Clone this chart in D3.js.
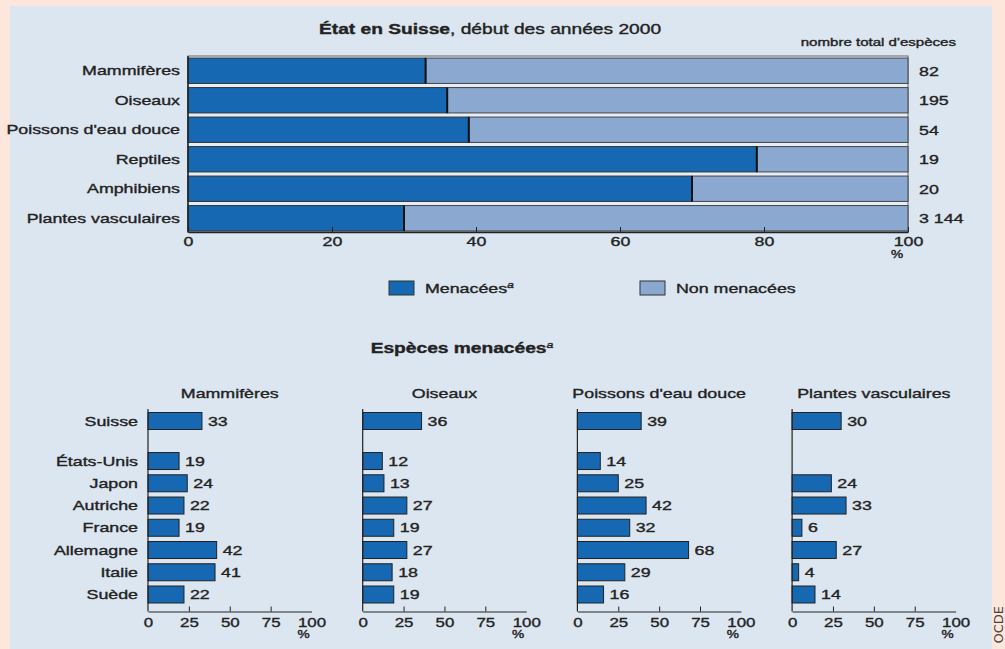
<!DOCTYPE html>
<html>
<head>
<meta charset="utf-8">
<script src="https://cdn.jsdelivr.net/npm/d3@7"></script>
<style>
  body { margin: 0; background: #fde7dc; }
  svg { display: block; }
  svg text.ink { stroke: #222; stroke-width: 0.35px; }
</style>
</head>
<body>
<div id="chart"></div>
<script>
{
// ---- data ----
const groups = ["Mammifères", "Oiseaux", "Poissons d'eau douce", "Reptiles", "Amphibiens", "Plantes vasculaires"];
const threatenedShare = [33, 36, 39, 79, 70, 30];
const totalSpecies = [82, 195, 54, 19, 20, 3144];
const topTicks = [0, 20, 40, 60, 80, 100];

const countries = ["Suisse", "États-Unis", "Japon", "Autriche", "France", "Allemagne", "Italie", "Suède"];
const panelTitles = ["Mammifères", "Oiseaux", "Poissons d'eau douce", "Plantes vasculaires"];
const mammiferes = [33, 19, 24, 22, 19, 42, 41, 22];
const oiseaux = [36, 12, 13, 27, 19, 27, 18, 19];
const poissons = [39, 14, 25, 42, 32, 68, 29, 16];
const plantes = [30, null, 24, 33, 6, 27, 4, 14];
const bottomTicks = [0, 25, 50, 75, 100];

const width = 1005, height = 649;
const SX = 1.37; // the source type is drawn wide
const FONT = "'Liberation Sans', Arial, sans-serif";
const dark = "#1668b3", light = "#8aa8d0", ink = "#222";

const svg = d3.select("#chart")
            .append("svg")
            .attr("width", width)
            .attr("height", height)
            .style("font-family", FONT);

// backgrounds
svg.append("rect").attr("width", width).attr("height", height).attr("fill", "#fde7dc");
svg.append("rect").attr("x", 10).attr("y", 6).attr("width", 982).attr("height", height - 6).attr("fill", "#dce6f0");

function label(parent, x, y, s, size, anchor, weight) {
   return parent.append("text")
      .attr("class", "ink")
      .attr("transform", `translate(${x},${y}) scale(${SX},1)`)
      .attr("text-anchor", anchor || "start")
      .attr("font-size", size || 13)
      .attr("font-weight", weight || "normal")
      .attr("fill", ink)
      .text(s);
}
const fmt = n => d3.format(",")(n).replace(/,/g, " ");

// ---- top chart ----
const xTop = d3.scaleLinear().domain([0, 100]).range([188, 908]);
const yTop = d3.scaleBand().domain(groups).range([56, 233]).paddingInner(0.14).paddingOuter(0.07);

const title = svg.append("text")
   .attr("class", "ink")
   .attr("transform", `translate(490,33.5) scale(${SX},1)`)
   .attr("text-anchor", "middle")
   .attr("font-size", 14)
   .attr("fill", ink);
title.append("tspan").attr("font-weight", "bold").text("État en Suisse");
title.append("tspan").text(", début des années 2000");

label(svg, 956, 45.5, "nombre total d'espèces", 11, "end");

svg.append("rect")
   .attr("x", xTop(0)).attr("y", 56)
   .attr("width", xTop(100) - xTop(0)).attr("height", 176)
   .attr("fill", "#e6edf4").attr("stroke", "#666").attr("stroke-width", 1);

const rows = svg.append("g").selectAll("g")
   .data(groups.map((g, i) => ({g, v: threatenedShare[i], n: totalSpecies[i]})))
   .enter().append("g");

rows.append("rect")
   .attr("x", d => xTop(d.v)).attr("y", d => yTop(d.g))
   .attr("width", d => xTop(100) - xTop(d.v)).attr("height", yTop.bandwidth())
   .attr("fill", light).attr("stroke", "#444").attr("stroke-width", 1);
rows.append("rect")
   .attr("x", xTop(0)).attr("y", d => yTop(d.g))
   .attr("width", d => xTop(d.v) - xTop(0)).attr("height", yTop.bandwidth())
   .attr("fill", dark).attr("stroke", "#333").attr("stroke-width", 1);
rows.append("line")
   .attr("x1", d => xTop(d.v)).attr("x2", d => xTop(d.v))
   .attr("y1", d => yTop(d.g)).attr("y2", d => yTop(d.g) + yTop.bandwidth())
   .attr("stroke", "#111").attr("stroke-width", 2);

rows.each(function (d) {
   const c = yTop(d.g) + yTop.bandwidth() / 2;
   label(d3.select(this), 180, c + 4.5, d.g, 13, "end");
   label(d3.select(this), 919, c + 5, fmt(d.n), 13, "start");
});

const axTop = svg.append("g")
   .attr("transform", "translate(0,232)")
   .style("color", ink)
   .call(d3.axisBottom(xTop).tickValues(topTicks).tickSizeInner(-5).tickSizeOuter(0).tickPadding(5));
axTop.selectAll("text")
   .attr("class", "ink")
   .attr("font-size", 13).attr("font-family", FONT).attr("fill", ink)
   .attr("transform", `scale(${SX},1)`);
axTop.select(".domain").attr("stroke-width", 1.5);
svg.append("line").attr("x1", xTop(0)).attr("x2", xTop(0)).attr("y1", 56).attr("y2", 232.5)
   .attr("stroke", ink).attr("stroke-width", 1.5);
label(svg, xTop(100) - 11, 257.5, "%", 10, "middle");

// legend
const legend = [{t: "Menacées", c: dark, x: 389, sup: true}, {t: "Non menacées", c: light, x: 640}];
legend.forEach(l => {
   svg.append("rect").attr("x", l.x).attr("y", 281).attr("width", 25).attr("height", 14)
      .attr("fill", l.c).attr("stroke", "#333");
   const t = label(svg, l.x + 36, 292.5, l.t, 13, "start");
   if (l.sup) t.append("tspan").attr("font-size", 9).attr("font-style", "italic").attr("dy", -5).text("a");
});

// ---- bottom small multiples ----
const t2 = label(svg, 462, 353, "Espèces menacées", 14, "middle", "bold");
t2.append("tspan").attr("font-size", 9).attr("font-weight", "normal").attr("font-style", "italic").attr("dy", -5).text("a");

const series = [mammiferes, oiseaux, poissons, plantes];
const slot = i => i === 0 ? 0 : i + 0.8;
const yB = d3.scaleLinear().domain([0, 7.8]).range([421, 594.5]);
const barH = 17;
const axisY = 611.5;

series.forEach((vals, p) => {
   const x0 = 148 + p * 214.7;
   const x = d3.scaleLinear().domain([0, 100]).range([x0, x0 + 163.5]);
   const g = svg.append("g");

   label(g, x(50), 397.5, panelTitles[p], 13, "middle");

   const data = countries.map((c, i) => ({c, i, v: vals[i]}));
   g.selectAll("rect").data(data.filter(d => d.v != null)).enter().append("rect")
      .attr("x", x(0)).attr("y", d => yB(slot(d.i)) - barH / 2)
      .attr("width", d => x(d.v) - x(0)).attr("height", barH)
      .attr("fill", dark).attr("stroke", "#222").attr("stroke-width", 1);

   data.filter(d => d.v != null).forEach(d => {
      label(g, x(d.v) + 6, yB(slot(d.i)) + 4.5, d.v, 13, "start");
   });
   if (p === 0) {
      data.forEach(d => label(g, 138, yB(slot(d.i)) + 4.5, d.c, 13, "end"));
   }

   const ax = g.append("g")
      .attr("transform", `translate(0,${axisY})`)
      .style("color", ink)
      .call(d3.axisBottom(x).tickValues(bottomTicks).tickSizeInner(-5).tickSizeOuter(0).tickPadding(6));
   ax.selectAll(".tick").filter(d => d === 0 || d === 100).select("line").remove();
   ax.selectAll("text")
      .attr("class", "ink")
      .attr("font-size", 13.5).attr("font-family", FONT).attr("fill", ink)
      .attr("transform", `scale(1.25,1)`);
   ax.select(".domain").attr("stroke-width", 1.2);
   g.append("line").attr("x1", x(0)).attr("x2", x(0)).attr("y1", 409).attr("y2", axisY)
      .attr("stroke", ink).attr("stroke-width", 1.2);
   label(g, x(100) - 8, 638, "%", 10, "middle");
});

// side credit
svg.append("text")
   .attr("transform", "translate(1003,606) rotate(-90)")
   .attr("text-anchor", "end")
   .attr("font-size", 13)
   .attr("font-family", "'DejaVu Sans', sans-serif")
   .attr("fill", "#444")
   .text("OCDE");
}
</script>
</body>
</html>
